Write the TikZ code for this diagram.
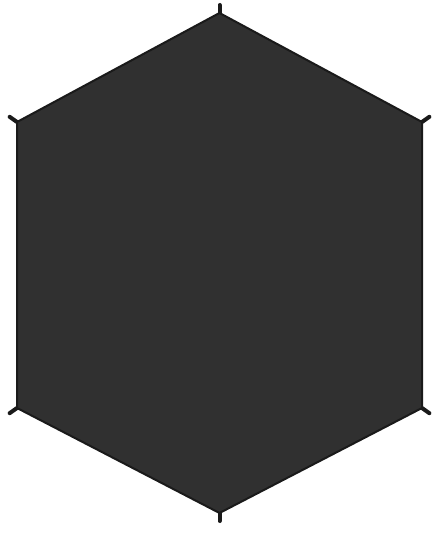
\documentclass[tikz,border=0pt]{standalone}
\usetikzlibrary{calc}
\definecolor{hexfill}{HTML}{303030}
\definecolor{hexline}{HTML}{1A1A1A}
\tikzset{
  hexbody/.style={fill=hexfill, draw=hexline, line width=2pt, line join=miter},
  vtick/.style={draw=hexline, line width=4pt, line cap=round}
}
\begin{document}
\begin{tikzpicture}[x=1pt,y=-1pt]
\fill[white] (0,0) rectangle (443,534);
\useasboundingbox (0,0) rectangle (443,534);
\coordinate (C) at (219.5,265);
\coordinate (T) at (219.5,13);
\coordinate (UR) at (422,122);
\coordinate (LR) at (422,408);
\coordinate (B) at (219.5,513);
\coordinate (LL) at (17,408);
\coordinate (UL) at (17,122);
\foreach \v/\l in {T/8, UR/9, LR/9, B/8, LL/9, UL/9}{
  \draw[vtick] (\v) -- ($(\v)!-\l pt!(C)$);
}
\path[hexbody] (T) -- (UR) -- (LR) -- (B) -- (LL) -- (UL) -- cycle;
\end{tikzpicture}
\end{document}
